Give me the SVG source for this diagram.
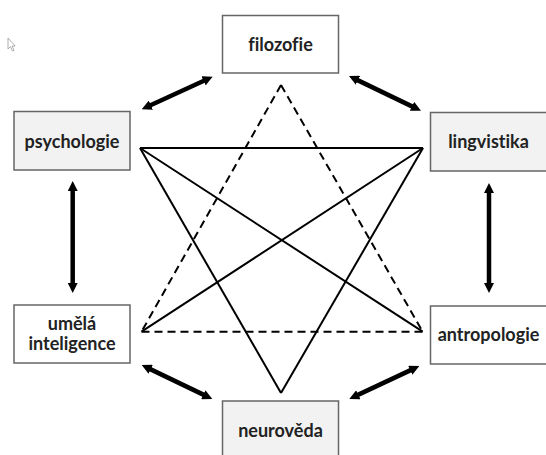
<svg xmlns="http://www.w3.org/2000/svg" width="546" height="455" viewBox="0 0 546 455">
<defs>
<marker id="ah" viewBox="0 0 10 10" refX="4" refY="5" markerWidth="10" markerHeight="10" markerUnits="userSpaceOnUse" orient="auto-start-reverse">
<path d="M0,0 L10,5 L0,10 z" fill="#000"/>
</marker>
<style>
.box{stroke:#666666;stroke-width:1.5}
.w{fill:#ffffff}
.g{fill:#f2f2f2}
.lbl{font-family:Lato,"Open Sans","Liberation Sans",sans-serif;font-weight:700;font-size:18px;fill:#222222;text-anchor:middle;font-variant-ligatures:none;font-feature-settings:"liga" 0}
.arr{stroke:#000;stroke-width:4.5;fill:none;marker-start:url(#ah);marker-end:url(#ah)}
.sol{stroke:#000;stroke-width:2;fill:none}
.dsh{stroke:#000;stroke-width:2;fill:none;stroke-dasharray:8 5}
</style>
</defs>
<rect width="546" height="455" fill="#fff"/>
<path d="M8,38 L8,49 L10.5,46.6 L12.4,51 L14,50.3 L12.2,46 L15.2,46 Z" fill="#fff" stroke="#9a9a9a" stroke-width="0.8"/>
<g id="connectors">
<line class="arr" x1="147.2" y1="106.8" x2="207.2" y2="79.2"/>
<line class="arr" x1="354.4" y1="78.6" x2="415.6" y2="108.1"/>
<line class="arr" x1="72.7" y1="187" x2="72.7" y2="287"/>
<line class="arr" x1="489" y1="189" x2="489" y2="287"/>
<line class="arr" x1="147.1" y1="367.6" x2="206.9" y2="396.4"/>
<line class="arr" x1="413.9" y1="368.6" x2="354.7" y2="396.4"/>
<line class="sol" x1="140" y1="148" x2="423" y2="148"/>
<line class="sol" x1="140" y1="148" x2="281" y2="393"/>
<line class="sol" x1="423" y1="148" x2="281" y2="393"/>
<line class="sol" x1="140" y1="148" x2="422.7" y2="331.7"/>
<line class="sol" x1="423" y1="148" x2="141.5" y2="331.7"/>
<line class="dsh" x1="281" y1="85" x2="141.5" y2="331.7"/>
<line class="dsh" x1="281" y1="85" x2="422.7" y2="331.7"/>
<line class="dsh" x1="141.5" y1="331.7" x2="422.7" y2="331.7"/>
</g>
<g id="filozofie">
<rect class="box w" x="222.5" y="15.5" width="116" height="57.5"/>
<text class="lbl" x="280.5" y="51">filozofie</text>
</g>
<g id="psychologie">
<rect class="box g" x="14" y="111.5" width="116" height="58.5"/>
<text class="lbl" x="72" y="147.5">psychologie</text>
</g>
<g id="lingvistika">
<rect class="box g" x="430.5" y="112.5" width="118" height="58.5"/>
<text class="lbl" x="488.5" y="147.5">lingvistika</text>
</g>
<g id="umela-inteligence">
<rect class="box w" x="14" y="305" width="116" height="58"/>
<text class="lbl" x="72" y="330">umělá</text>
<text class="lbl" x="72" y="350">inteligence</text>
</g>
<g id="antropologie">
<rect class="box w" x="430.5" y="306" width="118" height="58"/>
<text class="lbl" x="488.5" y="341">antropologie</text>
</g>
<g id="neuroveda">
<rect class="box g" x="222.5" y="401" width="116" height="60"/>
<text class="lbl" x="280.5" y="436.5">neurověda</text>
</g>
</svg>
